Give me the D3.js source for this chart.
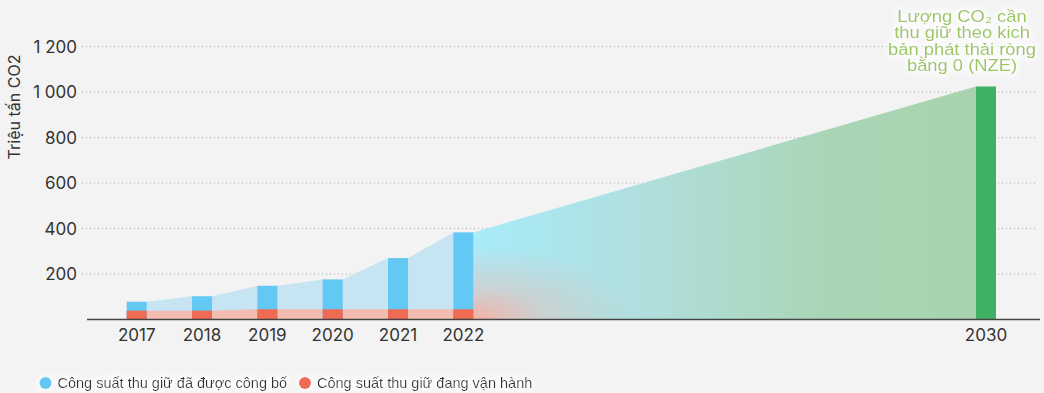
<!DOCTYPE html>
<html>
<head>
<meta charset="utf-8">
<script src="https://cdn.jsdelivr.net/npm/d3@7"></script>
<style>
  html, body { margin: 0; padding: 0; background: #f3f3f3; }
  svg { display: block; }
</style>
</head>
<body>
<svg id="chart" width="1044" height="393"></svg>
<script>
// ---- data ----
const years = [2017, 2018, 2019, 2020, 2021, 2022];
const announced = [78, 102, 148, 176, 270, 383];
const operating = [39, 39, 45, 45, 45, 45];
const targetYear = 2030;
const targetValue = 1025;
const yTicks = [200, 400, 600, 800, 1000, 1200];
const xTickLabels = ["2017", "2018", "2019", "2020", "2021", "2022", "2030"];
const yTitle = "Triệu tấn CO2";
const noteLines = ["Lượng CO₂ cần", "thu giữ theo kich", "bản phát thải ròng", "bằng 0 (NZE)"];
const legendLabels = ["Công suất thu giữ đã được công bố", "Công suất thu giữ đang vận hành"];

// ---- layout ----
const svg = d3.select("#chart");
const x = d3.scaleLinear().domain([2017, 2030]).range([136.7, 986]);
const y = d3.scaleLinear().domain([0, 1200]).range([319.5, 46.7]);
const bw = 20;
const fmt = d3.formatLocale({decimal: ",", thousands: "\u00a0", grouping: [3], currency: ["", ""]}).format(",d");

const defs = svg.append("defs");
const lg = defs.append("linearGradient").attr("id", "gArea")
  .attr("gradientUnits", "userSpaceOnUse")
  .attr("x1", x(2022) + bw / 2).attr("x2", x(2030) - bw / 2).attr("y1", 0).attr("y2", 0);
lg.append("stop").attr("offset", 0).attr("stop-color", "#a8ecfa");
lg.append("stop").attr("offset", 0.35).attr("stop-color", "#b0dedc");
lg.append("stop").attr("offset", 0.7).attr("stop-color", "#a9d6b6");
lg.append("stop").attr("offset", 1).attr("stop-color", "#a8d3ae");
const rg = defs.append("radialGradient").attr("id", "gRed")
  .attr("gradientUnits", "userSpaceOnUse")
  .attr("cx", 0).attr("cy", 0).attr("r", 1)
  .attr("gradientTransform", `translate(${x(2022) + bw / 2},${y(0)}) scale(160,75)`);
rg.append("stop").attr("offset", 0).attr("stop-color", "#f5b0a4").attr("stop-opacity", 1);
rg.append("stop").attr("offset", 0.45).attr("stop-color", "#efb8b0").attr("stop-opacity", 0.45);
rg.append("stop").attr("offset", 1).attr("stop-color", "#efb8b0").attr("stop-opacity", 0);
const glow = defs.append("filter").attr("id", "glow").attr("x", "-20%").attr("y", "-40%").attr("width", "140%").attr("height", "180%");
glow.append("feMorphology").attr("in", "SourceAlpha").attr("operator", "dilate").attr("radius", 2).attr("result", "d");
glow.append("feGaussianBlur").attr("in", "d").attr("stdDeviation", 3).attr("result", "b");
glow.append("feFlood").attr("flood-color", "#ffffff").attr("flood-opacity", 0.9);
glow.append("feComposite").attr("in2", "b").attr("operator", "in").attr("result", "w");
const mg = glow.append("feMerge");
mg.append("feMergeNode").attr("in", "w");
mg.append("feMergeNode").attr("in", "SourceGraphic");

// gridlines
svg.append("g").selectAll("line").data(yTicks).join("line")
  .attr("x1", 82).attr("x2", 1035)
  .attr("y1", d => y(d)).attr("y2", d => y(d))
  .attr("stroke", "#a8a8a8").attr("stroke-width", 1).attr("stroke-dasharray", "1,3");

// y tick labels
svg.append("g").selectAll("text").data(yTicks).join("text")
  .attr("x", 77).attr("y", d => y(d)).attr("dy", "0.36em")
  .attr("text-anchor", "end")
  .style("font-family", "Inter, 'Open Sans', sans-serif").style("font-size", "17px").attr("fill", "#333")
  .text(d => fmt(d));

// y title
svg.append("text")
  .attr("transform", "translate(20,107) rotate(-90)")
  .attr("text-anchor", "middle")
  .style("font-family", "Inter, 'Open Sans', sans-serif").style("font-size", "16px").attr("fill", "#333")
  .text(yTitle);

// area points from bar edges
const edgePts = (vals) => {
  const pts = [];
  years.forEach((yr, i) => {
    pts.push({x: x(yr) - bw / 2, v: vals[i]});
    pts.push({x: x(yr) + bw / 2, v: vals[i]});
  });
  return pts;
};
const area = d3.area().x(d => d.x).y0(y(0)).y1(d => y(d.v));
svg.append("path").datum(edgePts(announced)).attr("d", area).attr("fill", "#c6e4f1");
svg.append("path").datum(edgePts(operating)).attr("d", area).attr("fill", "#f2bcb2");

// projection area 2022 -> 2030
const proj = [{x: x(2022) + bw / 2, v: announced[announced.length - 1]}, {x: x(targetYear) - bw / 2, v: targetValue}];
svg.append("path").datum(proj).attr("d", area).attr("fill", "url(#gArea)");
svg.append("path").datum(proj).attr("d", area).attr("fill", "url(#gRed)");

// bars
svg.append("g").selectAll("rect").data(years).join("rect")
  .attr("x", d => x(d) - bw / 2).attr("width", bw)
  .attr("y", (d, i) => y(announced[i])).attr("height", (d, i) => y(0) - y(announced[i]))
  .attr("fill", "#63c9f4");
svg.append("g").selectAll("rect").data(years).join("rect")
  .attr("x", d => x(d) - bw / 2).attr("width", bw)
  .attr("y", (d, i) => y(operating[i])).attr("height", (d, i) => y(0) - y(operating[i]))
  .attr("fill", "#ef6a52");
svg.append("rect")
  .attr("x", x(targetYear) - bw / 2).attr("width", bw)
  .attr("y", y(targetValue)).attr("height", y(0) - y(targetValue))
  .attr("fill", "#40b064");

// x axis line
svg.append("line").attr("x1", 87).attr("x2", 1040).attr("y1", y(0)).attr("y2", y(0))
  .attr("stroke", "#444").attr("stroke-width", 1.5);

// x labels
const xYears = years.concat([targetYear]);
svg.append("g").selectAll("text").data(xYears).join("text")
  .attr("x", d => x(d)).attr("y", 340.5)
  .attr("text-anchor", "middle")
  .style("font-family", "Inter, 'Open Sans', sans-serif").style("font-size", "17px").attr("fill", "#333")
  .text((d, i) => xTickLabels[i]);

// annotation
const note = svg.append("g").attr("filter", "url(#glow)")
  .attr("transform", "translate(962,0) scale(1.08,1)");
note.selectAll("text").data(noteLines).join("text")
  .attr("x", 0).attr("y", (d, i) => 22 + i * 16.5)
  .attr("text-anchor", "middle")
  .style("font-family", "'Liberation Sans', Arial, sans-serif").style("font-size", "17px").attr("fill", "#9cc65f")
  .text(d => d);

// legend
const legColors = ["#63c9f4", "#ef6a52"];
const legX = [45.5, 305];
const leg = svg.append("g").attr("filter", "url(#glow)");
legendLabels.forEach((lab, i) => {
  leg.append("circle").attr("cx", legX[i]).attr("cy", 383).attr("r", 6).attr("fill", legColors[i]);
  leg.append("text").attr("x", legX[i] + 12).attr("y", 388)
    .style("font-family", "'Liberation Sans', Arial, sans-serif").style("font-size", "14.5px").attr("fill", "#333")
    .text(lab);
});
</script>
</body>
</html>
